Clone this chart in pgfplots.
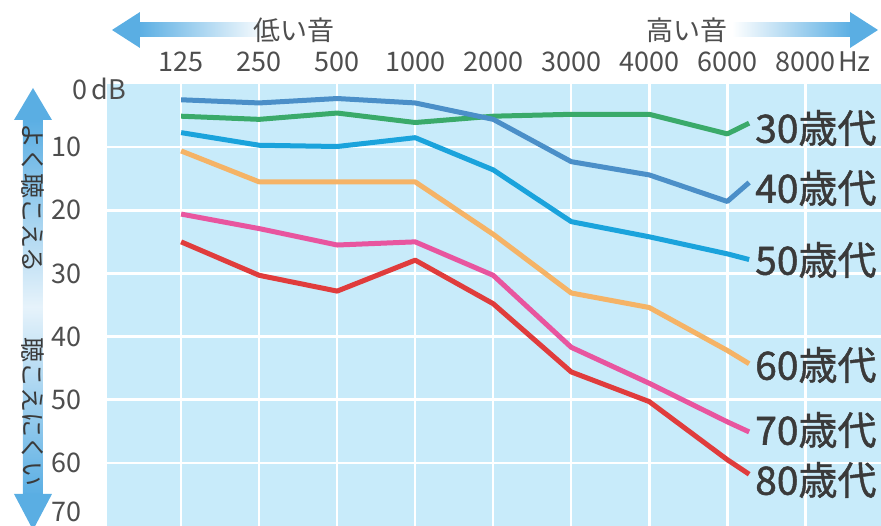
\documentclass[border=0pt]{standalone}
\usepackage{pgfplots}
\pgfplotsset{compat=1.18}
\usepackage{fontspec}
\setmainfont{Noto Sans CJK JP}
\definecolor{bgblue}{HTML}{C8EBFA}
\definecolor{arrowblue}{HTML}{5AAEE3}
\definecolor{c30}{HTML}{3AAA6A}
\definecolor{c40}{HTML}{4B8FC8}
\definecolor{c50}{HTML}{1AA3DC}
\definecolor{c60}{HTML}{F5B366}
\definecolor{c70}{HTML}{E8559F}
\definecolor{c80}{HTML}{E03C3C}
\definecolor{txt}{HTML}{3A3A3A}
\newcommand{\tickfont}{\fontsize{27}{29}\selectfont}
\newcommand{\labfont}{\fontsize{39}{41}\selectfont\addfontfeatures{FakeBold=1.2}}

\begin{document}
\begin{tikzpicture}
\begin{axis}[
  scale only axis, width=774pt, height=442pt,
  xmin=-0.95, xmax=8.97, ymin=0, ymax=70, y dir=reverse,
  axis line style={draw=none},
  axis background/.style={fill=bgblue},
  xtick={0,...,8},
  xticklabels={125,250,500,1000,2000,3000,4000,6000,8000},
  xticklabel pos=upper,
  ytick={10,20,...,60},
  extra y ticks={70},
  extra y tick style={grid=none, yticklabel style={yshift=14pt}},
  grid=major, major grid style={white, line width=2.5pt},
  tick style={draw=none},
  /pgf/number format/assume math mode=true,
  ticklabel style={font=\tickfont, text=txt!90},
  xticklabel style={anchor=south, inner sep=0pt, yshift=12pt},
  yticklabel style={anchor=east, inner sep=0pt, xshift=-25pt},
]
% 30歳代
\addplot[no marks, line width=5pt, c30, line join=round] coordinates {
  (0,5.1) (1,5.6) (2,4.6) (3,6.1) (4,5.1) (5,4.8) (6,4.8) (7,7.9) (7.28,6.2)};
% 40歳代
\addplot[no marks, line width=5pt, c40, line join=round] coordinates {
  (0,2.5) (1,3.0) (2,2.3) (3,3.0) (4,5.6) (5,12.3) (6,14.4) (7,18.6) (7.28,15.6)};
% 50歳代
\addplot[no marks, line width=5pt, c50, line join=round] coordinates {
  (0,7.7) (1,9.7) (2,9.9) (3,8.5) (4,13.6) (5,21.8) (6,24.2) (7,26.9) (7.28,27.8)};
% 60歳代
\addplot[no marks, line width=5pt, c60, line join=round] coordinates {
  (0,10.6) (1,15.5) (2,15.5) (3,15.5) (4,23.8) (5,33.1) (6,35.4) (7,42.2) (7.28,44.3)};
% 70歳代
\addplot[no marks, line width=5pt, c70, line join=round] coordinates {
  (0,20.6) (1,22.9) (2,25.5) (3,25.0) (4,30.3) (5,41.7) (6,47.4) (7,53.5) (7.28,55.1)};
% 80歳代
\addplot[no marks, line width=5pt, c80, line join=round] coordinates {
  (0,25.0) (1,30.3) (2,32.8) (3,27.9) (4,34.8) (5,45.6) (6,50.3) (7,59.5) (7.28,61.8)};
\end{axis}

% overlay in picture pixels (origin top left)
\begin{scope}[x=1pt, y=1pt, shift={(-107pt,526pt)}, yscale=-1]
  % series labels
  \node[anchor=west, font=\labfont, text=txt, inner sep=0pt] at (755,128) {30歳代};
  \node[anchor=west, font=\labfont, text=txt, inner sep=0pt] at (755,188) {40歳代};
  \node[anchor=west, font=\labfont, text=txt, inner sep=0pt] at (755,260) {50歳代};
  \node[anchor=west, font=\labfont, text=txt, inner sep=0pt] at (755,365) {60歳代};
  \node[anchor=west, font=\labfont, text=txt, inner sep=0pt] at (755,430) {70歳代};
  \node[anchor=west, font=\labfont, text=txt, inner sep=0pt] at (755,480) {80歳代};
  % units
  \node[anchor=base west, font=\tickfont, text=txt!90, inner sep=0pt] at (838,72) {Hz};
  \node[anchor=base west, font=\tickfont, text=txt!90, inner sep=0pt] at (72,100) {0\,dB};
  % top arrows
  \shade[left color=arrowblue, right color=white] (138,23) rectangle (268,37);
  \fill[arrowblue] (112,30) -- (140,12) -- (140,48) -- cycle;
  \shade[left color=white, right color=arrowblue] (732,23) rectangle (852,37);
  \fill[arrowblue] (878,30) -- (850,12) -- (850,48) -- cycle;
  \node[font=\fontsize{27}{29}\selectfont, text=txt!90] at (294,30) {低い音};
  \node[font=\fontsize{27}{29}\selectfont, text=txt!90] at (687,30) {高い音};
  % left vertical arrow
  \shade[top color=arrowblue, bottom color=arrowblue, middle color=arrowblue!15]
    (23,118) rectangle (43,496);
  \fill[arrowblue] (33,88) -- (14,120) -- (52,120) -- cycle;
  \fill[arrowblue] (33,530) -- (14,494) -- (52,494) -- cycle;
  \node[rotate=-90, font=\fontsize{25}{27}\selectfont, text=txt] at (33,198) {よく聴こえる};
  \node[rotate=-90, font=\fontsize{25}{27}\selectfont, text=txt] at (33,412) {聴こえにくい};
  \pgfresetboundingbox
  \useasboundingbox (0,0) rectangle (881,526);
\end{scope}
\end{tikzpicture}
\end{document}
